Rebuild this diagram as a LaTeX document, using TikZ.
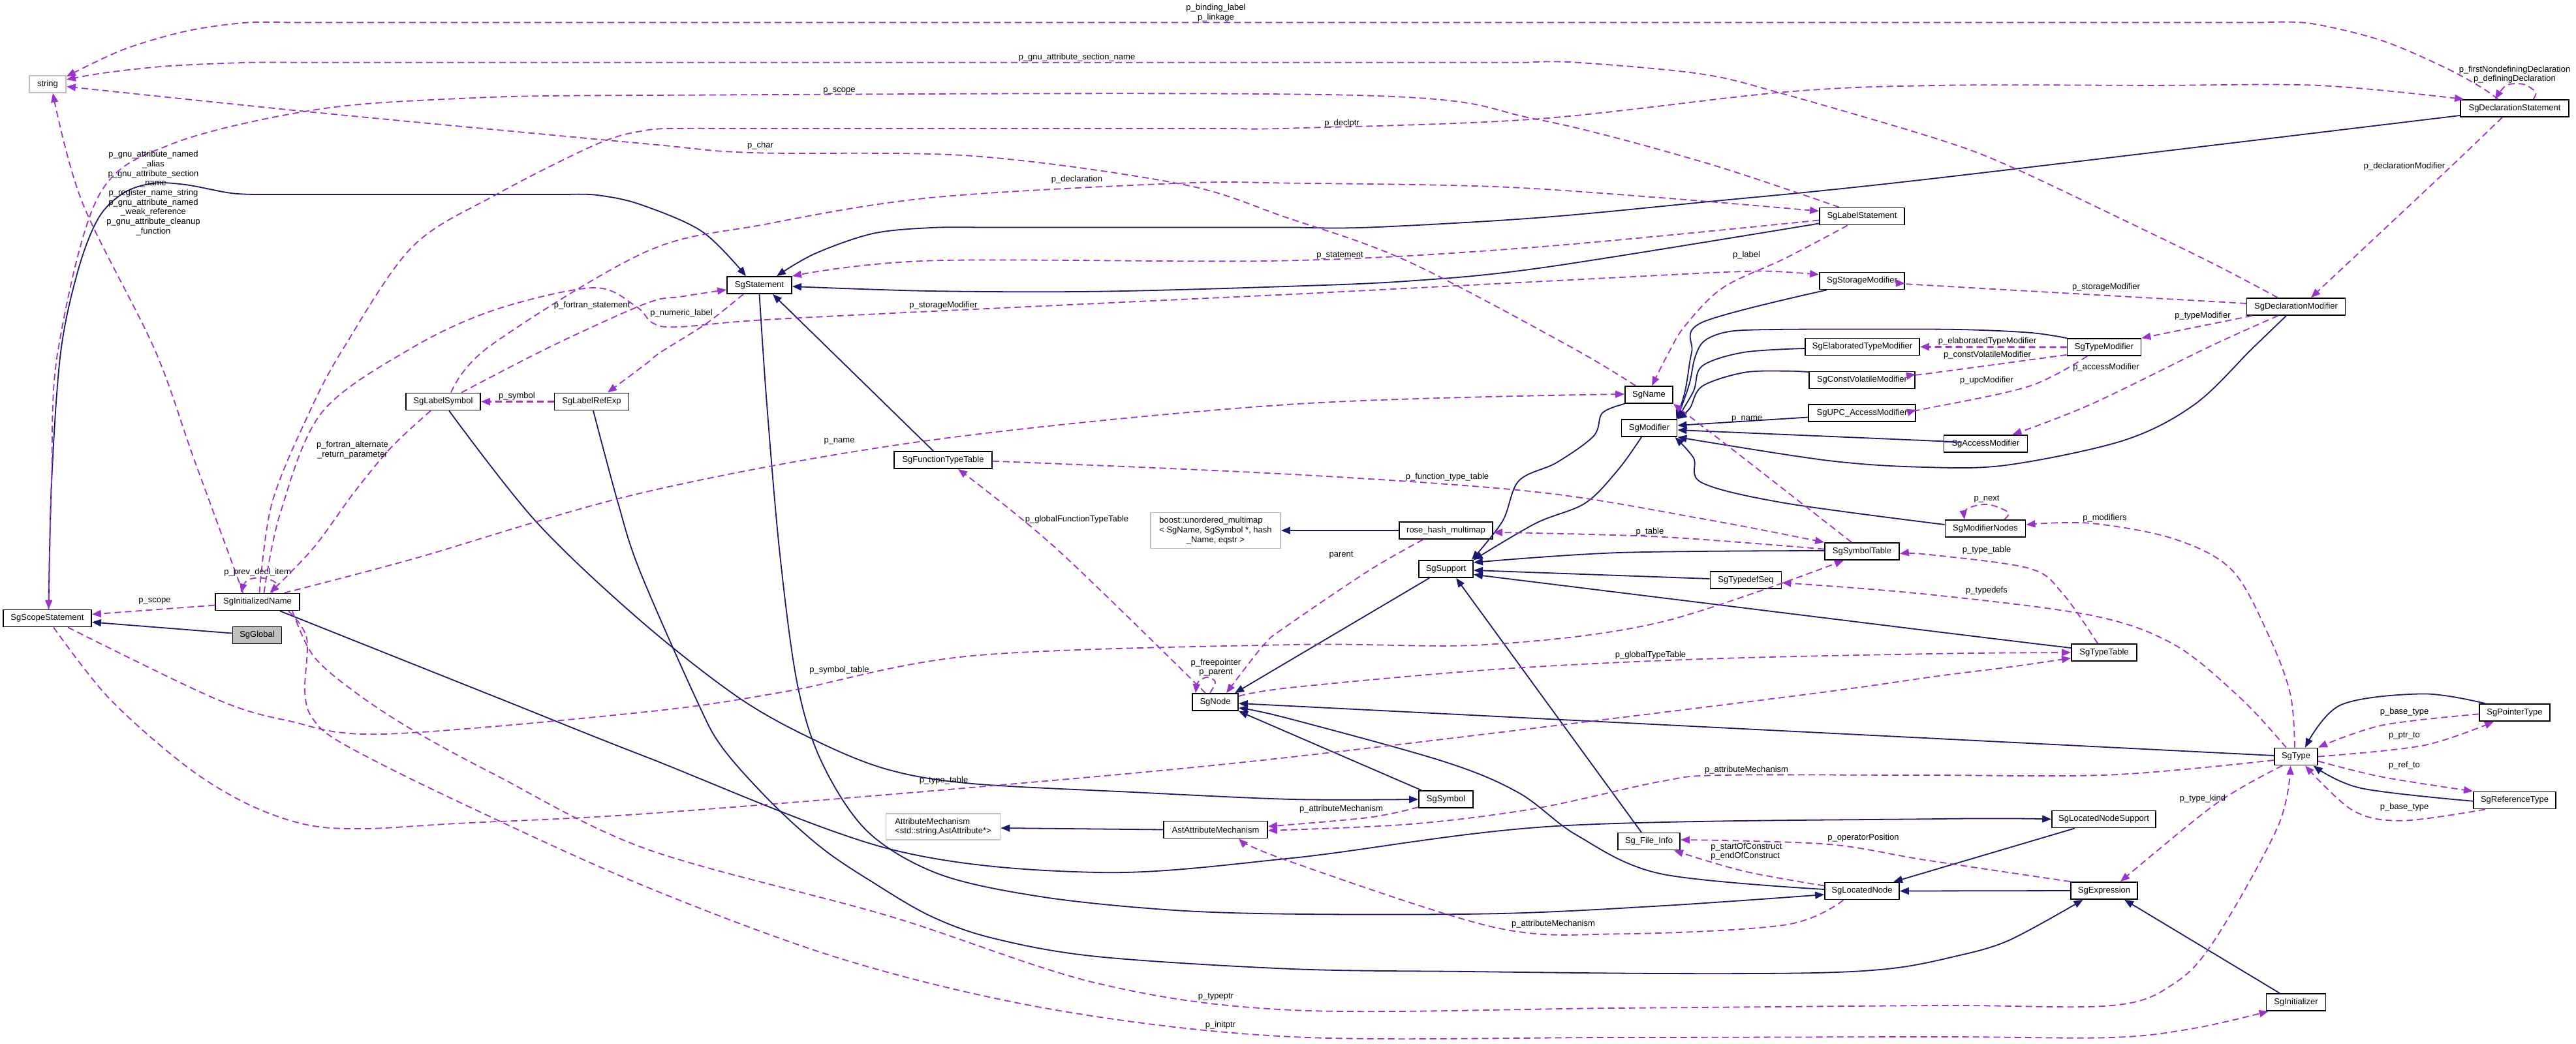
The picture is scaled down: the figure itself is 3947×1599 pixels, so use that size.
\documentclass[tikz,border=0pt]{standalone}
\usepackage{fontspec}
\setmainfont{Liberation Sans}
\usetikzlibrary{arrows.meta}
\definecolor{inhc}{HTML}{191970}
\definecolor{depc}{HTML}{9A32CD}
\definecolor{extc}{HTML}{BFBFBF}
\newcommand\dfont{\fontsize{13}{14.7}\selectfont}
\tikzset{
  cls/.style={draw=black, line width=1.8pt, fill=white, minimum height=26pt, inner xsep=5pt, inner ysep=0pt, font=\dfont},
  ext/.style={cls, draw=extc},
  inh/.style={draw=inhc, line width=1.8pt, -{Triangle[length=14pt,width=11pt]}},
  dep/.style={draw=depc, line width=1.8pt, dash pattern=on 10pt off 6pt, -{Triangle[length=14pt,width=11pt]}},
  lab/.style={font=\dfont, inner sep=0pt, align=center},
  sm/.style={smooth, tension=0.55}
}
\begin{document}
\begin{tikzpicture}[x=1pt,y=-1pt]
\fill[white] (0,0) rectangle (3947,1599);
\useasboundingbox (0,0) rectangle (3947,1599);
% ---------------- nodes ----------------
\node[ext, minimum width=56pt] (nstr) at (73,129) {string};
\node[cls, minimum width=99pt] (stmt) at (1163.5,437) {SgStatement};
\node[cls, minimum width=130pt] (labst) at (2853,331.5) {SgLabelStatement};
\node[cls, minimum width=130pt] (stormod) at (2853,430.5) {SgStorageModifier};
\node[cls, minimum width=175pt] (elab) at (2853.5,531.5) {SgElaboratedTypeModifier};
\node[cls, minimum width=166pt] (declst) at (3853,166) {SgDeclarationStatement};
\node[cls, minimum width=151pt] (declmod) at (3518,470) {SgDeclarationModifier};
\node[cls, minimum width=113pt] (typemod) at (3224,532) {SgTypeModifier};
\node[cls, minimum width=73pt] (sgname) at (2526.5,605) {SgName};
\node[cls, minimum width=162pt] (cvm) at (2853,582.5) {SgConstVolatileModifier};
\node[cls, minimum width=85pt] (sgmod) at (2527,656) {SgModifier};
\node[cls, minimum width=164pt] (upc) at (2853,633) {SgUPC\_AccessModifier};
\node[cls, minimum width=128pt] (access) at (3042.5,680) {SgAccessModifier};
\node[cls, minimum width=114pt] (labsym) at (679,615.5) {SgLabelSymbol};
\node[cls, minimum width=114pt] (labref) at (906.5,615.5) {SgLabelRefExp};
\node[cls, minimum width=150pt] (ftt) at (1445,705) {SgFunctionTypeTable};
\node[ext, minimum width=199pt, minimum height=55pt, align=left] (boost) at (1862.5,813) {boost::unordered\_multimap\\< SgName, SgSymbol *, hash\\\hspace*{41.5pt}\_Name, eqstr >};
\node[cls, minimum width=143pt] (rose) at (2215.5,813) {rose\_hash\_multimap};
\node[cls, minimum width=114pt] (symtab) at (2853,845) {SgSymbolTable};
\node[cls, minimum width=83pt] (support) at (2215.5,872) {SgSupport};
\node[cls, minimum width=109pt] (tdseq) at (2675,889) {SgTypedefSeq};
\node[cls, minimum width=123pt] (modnodes) at (3042,810) {SgModifierNodes};
\node[cls, minimum width=100pt] (typetab) at (3224,1000) {SgTypeTable};
\node[cls, minimum width=129pt] (initname) at (394.5,922.5) {SgInitializedName};
\node[cls, minimum width=135pt] (scope) at (72.5,947.5) {SgScopeStatement};
\node[cls, fill=extc, minimum width=75pt] (global) at (394,973.5) {SgGlobal};
\node[cls, minimum width=70pt] (sgnode) at (1862,1076) {SgNode};
\node[ext, minimum width=175pt, minimum height=40pt, align=left] (attrm) at (1445,1267) {AttributeMechanism\\<std::string,AstAttribute*>};
\node[cls, minimum width=159pt] (astattr) at (1862.5,1271.5) {AstAttributeMechanism};
\node[cls, minimum width=83pt] (symbol) at (2215.5,1225) {SgSymbol};
\node[cls, minimum width=95pt] (fileinfo) at (2526.5,1289.5) {Sg\_File\_Info};
\node[cls, minimum width=114pt] (locnode) at (2853,1365.5) {SgLocatedNode};
\node[cls, minimum width=159pt] (lns) at (3223.5,1255.5) {SgLocatedNodeSupport};
\node[cls, minimum width=102pt] (expr) at (3224,1365) {SgExpression};
\node[cls, minimum width=91pt] (sginit) at (3518,1536) {SgInitializer};
\node[cls, minimum width=66pt] (sgtype) at (3518,1159.5) {SgType};
\node[cls, minimum width=108pt] (ptr) at (3853,1092) {SgPointerType};
\node[cls, minimum width=126pt] (ref) at (3853,1226.5) {SgReferenceType};
% ---------------- inheritance edges ----------------
\draw[inh] ([yshift=3pt]global.west) -- ([yshift=-6pt]scope.east);
\draw[inh] plot[sm] coordinates {([xshift=2pt]scope.north) (79,740) (93,540) (120,413) (151,334) (189,296) (234,281) (284,283) (354,296) (400,298)} -- plot[sm] coordinates {(870,298) (915,299) (980,313) (1076,355) ([xshift=-20.5pt]stmt.north)};
\draw[inh] plot[sm] coordinates {([yshift=-11pt]declst.west) (2950,275) (2608,310) (2353,334) (2098,348.5) (1990,348.5)} -- plot[sm] coordinates {(1500,348.5) (1426,349) (1337,358) (1248,389) ([xshift=26.5pt]stmt.north)};
\draw[inh] plot[sm] coordinates {([yshift=-11pt]labst.west) (2365,410) (2161,430.5) (1970,439) (1681,446.7) (1426,446) ([yshift=-2pt]stmt.east)};
\draw[inh] ([xshift=-15pt]ftt.north) -- ([xshift=20.5pt]stmt.south);
\draw[inh] plot[sm] coordinates {(stmt.south) (1175,620) (1195,850) (1222,1050) (1260,1170) (1330,1275) (1440,1340) (1600,1375) (1800,1395) (2000,1401) (2300,1400) (2550,1388) ([yshift=-5.5pt]locnode.west)};
\draw[inh] plot[sm] coordinates {([xshift=2.5pt]labref.south) (947,771) (980,874) (1066,1070) (1107,1146) (1184,1232) (1261,1301) (1337,1352) (1426,1404) (1522,1438) (1681,1466) (1980,1485) (2250,1489) (2550,1492) (2780,1491) (2900,1484) (2990,1467) (3077,1441.6) ([xshift=-32.4pt]expr.south)};
\draw[inh] plot[sm] coordinates {([xshift=9pt]labsym.south) (821,799) (980,950) (1133,1070) (1254,1137) (1362.6,1180) (1490,1201) (1735,1214) (1980,1225) (symbol.west)};
\draw[inh] plot[sm] coordinates {([xshift=34.5pt]initname.south) (764,1070) (990,1160) (1362.6,1301) (1681.5,1337) (1980,1315) (2384.5,1266) (2970,1255) (lns.west)};
\draw[inh] ([xshift=-25.5pt]support.south) -- ([xshift=30pt]sgnode.north);
\draw[inh] ([yshift=1.5pt]sgtype.west) -- ([yshift=-2pt]sgnode.east);
\draw[inh] ([xshift=-37.5pt]symbol.north) -- (sgnode.south east);
\draw[inh] plot[sm] coordinates {([yshift=2.5pt]locnode.west) (2544,1339) (2416,1280) (2327,1215) (2212,1167) (1970,1100) ([yshift=-9pt]sgnode.east)};
\draw[inh] plot[sm] coordinates {(sgname.south west) (2455,633) (2442,668) (2385,709) (2327,737) (2302,799) ([xshift=-3pt]support.north east)};
\draw[inh] plot[sm] coordinates {([xshift=-12pt]sgmod.south) (2480,719) (2429,771) (2353,802) (support.north east)};
\draw[inh] plot[sm] coordinates {([yshift=1pt]symtab.west) (2480,847) ([yshift=10pt]support.east)};
\draw[inh] ([yshift=2pt]tdseq.west) -- ([yshift=-2pt]support.east);
\draw[inh] plot[sm] coordinates {([yshift=7pt]typetab.west) (2950,966) ([yshift=-8.5pt]support.east)};
\draw[inh] ([xshift=-11.5pt]fileinfo.north) -- ([xshift=15.5pt]support.south);
\draw[inh] plot[sm] coordinates {([xshift=-54pt]stormod.south) (2608,494) (2592,540) (2582,599) ([xshift=-2pt]sgmod.north east)};
\draw[inh] plot[sm] coordinates {([yshift=-2.5pt]elab.west) (2671.5,540) (2608,561) (2595,599) ([xshift=-1pt]sgmod.north east)};
\draw[inh] plot[sm] coordinates {([yshift=12.5pt]cvm.west) (2735,568.6) (2671.5,571) (2608,592) (2589,626) (sgmod.north east)};
\draw[inh] ([yshift=-6.5pt]upc.west) -- ([yshift=4pt]sgmod.east);
\draw[inh] plot[sm] coordinates {([yshift=3pt]access.west) (2970,676) ([yshift=-3pt]sgmod.east)};
\draw[inh] plot[sm] coordinates {([xshift=-15pt]declmod.south) (3450,535) (3363,619.5) (3255,674.6) (3077,712.5) (2950,716) (2799,705.6) (sgmod.south east)};
\draw[inh] plot[sm] coordinates {([yshift=6pt]modnodes.west) (2735,771) (2608,740) (2595,702) ([xshift=-4pt]sgmod.south east)};
\draw[inh] plot[sm] coordinates {(typemod.north west) (3109,509.7) (3000,505) (2850,504.5) (2720,505) (2650,508) (2612,522) (2597,548) (2588,590) ([xshift=-1pt]sgmod.north east)};
\draw[inh] (rose.west) -- (boost.east);
\draw[inh] (astattr.west) -- ([yshift=-2pt]attrm.east);
\draw[inh] (expr.west) -- (locnode.east);
\draw[inh] ([xshift=-44.5pt]lns.south) -- ([xshift=48pt]locnode.north);
\draw[inh] ([xshift=-25pt]sginit.north) -- ([xshift=31pt]expr.south);
\draw[inh] plot[sm] coordinates {([xshift=-45pt]ptr.north) (3713,1063.4) (3586,1080.6) ([xshift=14pt]sgtype.north)};
\draw[inh] plot[sm] coordinates {([yshift=-1.3pt]ref.west) (3617,1207.8) ([xshift=26.6pt]sgtype.south)};
% ---------------- usage edges ----------------
\draw[dep] plot[sm] coordinates {([xshift=-25.5pt]declst.north) (3802,134) (3745,103) (3649,62) (3541,36) (3470,34.4)} -- plot[sm] coordinates {(440,34.4) (373,35) (284,48) (189,76) ([yshift=-2pt]nstr.north east)};
\draw[dep] plot[sm] coordinates {([xshift=-28pt]declmod.north) (3395,406) (3268,344) (3083.5,256.6) (2970,213.5) (2735,144.6) (2608,113.6) (2416,95.7) (2340,95.7)} -- plot[sm] coordinates {(450,95.7) (372.5,96) (252.5,101.6) (158,112) ([yshift=7pt]nstr.east)};
\draw[dep] plot[sm] coordinates {([xshift=-20.5pt]sgname.north) (2403.7,530) (2155,399.5) (1970,333) (1809,282) (1490,239) (1152,234) (990,220.4) (480,172) ([yshift=-3.6pt]nstr.east)};
\draw[dep] plot[sm] coordinates {([xshift=-22pt]initname.north) (296.7,702) (236.7,535) (126,310) ([xshift=8pt]nstr.south)};
\draw[dep] plot[sm] coordinates {([xshift=-35pt]labst.north) (2608,248) (2353,182.5) (2078,146) (990,146) (694,151.5) (480,168.7) (265,220) (151.5,299.6) (88.4,540) (79,736.6) ([xshift=2pt]scope.north)};
\draw[dep] ([yshift=-5pt]initname.west) -- ([yshift=6pt]scope.east);
\draw[dep, line width=2.8pt] (labref.west) -- (labsym.east);
\draw[dep] plot[sm] coordinates {([xshift=-24.5pt]stmt.south) (1082,496) (1012,540) (990,557.5) ([xshift=24.5pt]labref.north)};
\draw[dep] plot[sm] coordinates {([xshift=28pt]labsym.north) (846,530) (990,465) (1044,454.6) ([yshift=-7pt]stmt.west)};
\draw[dep] plot[sm] coordinates {([xshift=12pt]labsym.north) (751,530) (990,385.7) (1171,344) (1426,303) (1809,280.7) (1980,280.7) (2289,286) (2544,303) ([yshift=8pt]labst.west)};
\draw[dep] plot[sm] coordinates {([xshift=-19pt]labsym.south) (600,685) (543,754) (480,840) ([xshift=19pt]initname.north)};
\draw[dep] plot[sm] coordinates {([xshift=22pt]initname.north) (422,893) (400,885.5) (378,890) ([xshift=-25pt]initname.north)};
\draw[dep] plot[sm] coordinates {([xshift=3pt]initname.north) (416.7,771) (473.5,633) (525.5,535) (631,379) (757.6,299.6) (915.5,220.4) (990,199.7) (1044,197) (1100,197)} -- plot[sm] coordinates {(1900,197) (1980,196.5) (2352.6,182.5) (2735,141) (2970,130.9) (3300,130.9) (3554,131) ([xshift=6pt]declst.north west)};
\draw[dep] plot[sm] coordinates {([xshift=10pt]initname.north) (429,788) (492.4,633) (628,535) (757.6,475) (909,441) (975,470) (1000,495) (1040,501) (1190,489) (1681.5,465) (1980,451)} -- plot[sm] coordinates {(2600,419) (2703,415.5) ([yshift=9.7pt]stormod.west)};
\draw[dep] plot[sm] coordinates {([xshift=41pt]initname.north) (631.4,857) (990,753.8) (1426,674.6) (1980,619.5) ([yshift=1pt]sgname.west)};
\draw[dep] plot[sm] coordinates {([yshift=-6pt]labst.west) (2352.6,378.8) (1970,399.5) (1426,399.5) (stmt.north east)};
\draw[dep] plot[sm] coordinates {([xshift=-22pt]labst.south) (2735,396) (2640,440.8) (2582,499) (2557,540) ([xshift=4.5pt]sgname.north)};
\draw[dep] plot[sm] coordinates {([xshift=28.5pt]declst.north) (3885,141) (3865.6,129) (3840,131) ([xshift=-30pt]declst.north)};
\draw[dep] plot[sm] coordinates {([xshift=-19pt]declst.south) (3745,265) ([xshift=23pt]declmod.north)};
\draw[dep] plot[sm] coordinates {([yshift=5pt]declmod.west) (2950,437) ([yshift=-4pt]stormod.east)};
\draw[dep] ([xshift=9pt]declmod.south west) -- (typemod.north east);
\draw[dep] plot[sm] coordinates {([xshift=-27.5pt]declmod.south) (3388,530) (3204,619.5) ([xshift=41pt]access.north)};
\draw[dep, line width=2.8pt] (typemod.west) -- (elab.east);
\draw[dep] plot[sm] coordinates {([yshift=-11.8pt]typemod.west) (2950,573) ([yshift=9pt]cvm.east)};
\draw[dep] plot[sm] coordinates {([xshift=-26pt]typemod.south) (3109,592) (2950,626.4) ([yshift=5pt]upc.east)};
\draw[dep] plot[sm] coordinates {([xshift=29pt]modnodes.north) (3077,785) (3045,773) (3013.6,780) ([xshift=-32pt]modnodes.north)};
\draw[dep] plot[sm] coordinates {([xshift=-2pt]sgtype.north) (3509.5,1065) (3477.8,977.7) (3420.5,874.4) (3331.5,826) (3204,802) ([yshift=6pt]modnodes.east)};
\draw[dep] plot[sm] coordinates {([xshift=-10pt]typetab.north) (3159.8,908.8) (3109,871) (2956,850) ([yshift=-3.5pt]symtab.east)};
\draw[dep] plot[sm] coordinates {([xshift=-15pt]sgtype.north) (3433,1070) (3331.5,988) (3204,943) (2950,910.5) ([yshift=-4pt]tdseq.east)};
\draw[dep] plot[sm] coordinates {([yshift=9pt]sgnode.east) (1980,1053.5) (2289,1026) (2608,1010) (2970,1001.8) (typetab.west)};
\draw[dep] plot[sm] coordinates {([xshift=9.5pt]scope.south) (167,1070) (284,1173.4) (379,1232) (470,1264) (560,1270) (700,1262) (990,1247) (1522,1204) (1980,1160) (2722.5,1070) (2970,1036) (3077,1022.5) ([yshift=-8.6pt]typetab.west)};
\draw[dep] plot[sm] coordinates {([xshift=31.5pt]scope.south) (328,1070) (442,1104.7) (587,1125) (990,1091) (1203,1060) (1490,1005) (1980,988) (2276,988) (2544,953.6) ([xshift=-28pt]symtab.south)};
\draw[dep] plot[sm] coordinates {([yshift=3.4pt]symtab.west) (2544,822.7) ([yshift=-2.8pt]rose.east)};
\draw[dep] plot[sm] coordinates {([yshift=-1.7pt]ftt.east) (1980,727) (2352.6,753.8) (2608,795) (symtab.north west)};
\draw[dep] plot[sm] coordinates {([xshift=-16pt]symtab.north) (2671.5,702) (sgname.south east)};
\draw[dep] plot[sm] coordinates {([xshift=-35pt]rose.south) (2097.5,874.4) (1970,960.5) (1936.6,988) ([xshift=17pt]sgnode.north)};
\draw[dep] plot[sm] coordinates {([xshift=-8pt]sgnode.north) (1862,1045) (1850,1038) (1836,1045) ([xshift=-30pt]sgnode.north)};
\draw[dep] plot[sm] coordinates {([xshift=-15pt]sgnode.north) (1617.7,840) ([xshift=23pt]ftt.south)};
\draw[dep] plot[sm] coordinates {([yshift=-12pt]symbol.west) (2097.5,1252.8) ([yshift=5pt]astattr.east)};
\draw[dep] plot[sm] coordinates {([yshift=-5.5pt]sgtype.west) (3236,1187.4) (2950,1188) (2639.6,1188) (2544,1197.7) (2352.6,1239) (2161,1263) ([yshift=-1.3pt]astattr.east)};
\draw[dep] plot[sm] coordinates {([xshift=-28.5pt]locnode.south) (2735,1417.5) (2480,1431.3) (2289,1421) (1970,1318) ([xshift=35.5pt]astattr.south)};
\draw[dep] plot[sm] coordinates {([yshift=8pt]locnode.west) (2671.5,1335) ([xshift=-10pt]fileinfo.south east)};
\draw[dep] plot[sm] coordinates {(expr.north west) (2950,1318) (2799,1293.7) ([yshift=2.5pt]fileinfo.east)};
\draw[dep] plot[sm] coordinates {([xshift=-21pt]sgtype.south) (3395,1232) ([xshift=25pt]expr.north)};
\draw[dep] plot[sm] coordinates {([xshift=53.5pt]initname.south) (480,1005) (543,1060) (631,1118) (758,1187) (990,1301) (1362.6,1404) (1681.5,1507) (1980,1548) (2475,1545) (2970,1541) (3236,1541) (3331.5,1507) (3395,1438) (3490.5,1266) ([xshift=-8.5pt]sgtype.south)};
\draw[dep] plot[sm] coordinates {([xshift=47.5pt]initname.south) (470,978) (467,1060) (479,1101) (524,1139) (694.5,1225) (990,1359) (1299,1472.5) (1618,1548) (1980,1589) (2475,1590) (2970,1589) (3236,1590) (3363,1575.7) ([xshift=4pt]sginit.south west)};
\draw[dep] plot[sm] coordinates {([yshift=-2.4pt]ptr.west) (3649.5,1111.6) (sgtype.north east)};
\draw[dep] plot[sm] coordinates {(sgtype.east) (3713,1142.5) ([xshift=-32pt]ptr.south)};
\draw[dep] plot[sm] coordinates {([yshift=-7pt]sgtype.east) (3649.5,1190.6) (ref.north west)};
\draw[dep] plot[sm] coordinates {([xshift=-45pt]ref.south) (3681,1257.7) (3605,1242) ([xshift=14pt]sgtype.south)};
% ---------------- labels ----------------
\node[lab] (l1) at (1863,19.5) {p\_binding\_label\\p\_linkage};
\node[lab] (l2) at (1650,88) {p\_gnu\_attribute\_section\_name};
\node[lab] (l3) at (1286,139) {p\_scope};
\node[lab] (l4) at (1165,223) {p\_char};
\node[lab] (l5) at (2056,189) {p\_declptr};
\node[lab] (l6) at (1650,275.5) {p\_declaration};
\node[lab] (l7) at (2053,392) {p\_statement};
\node[lab] (l8) at (2676,391) {p\_label};
\node[lab] (l9) at (1445.5,467.7) {p\_storageModifier};
\node[lab] (l10) at (1044,480) {p\_numeric\_label};
\node[lab] (l11) at (907,468) {p\_fortran\_statement};
\node[lab] (l12) at (235,296) {p\_gnu\_attribute\_named\\\_alias\\p\_gnu\_attribute\_section\\\_name\\p\_register\_name\_string\\p\_gnu\_attribute\_named\\\_weak\_reference\\p\_gnu\_attribute\_cleanup\\\_function};
\node[lab] (l13) at (3853,114) {p\_firstNondefiningDeclaration\\p\_definingDeclaration};
\node[lab] (l14) at (3684,255.5) {p\_declarationModifier};
\node[lab] (l15) at (3227,440) {p\_storageModifier};
\node[lab] (l16) at (3375,484) {p\_typeModifier};
\node[lab] (l17) at (3045,523.5) {p\_elaboratedTypeModifier};
\node[lab] (l18) at (3045,544) {p\_constVolatileModifier};
\node[lab] (l19) at (3227,563.5) {p\_accessModifier};
\node[lab] (l20) at (3044,582.7) {p\_upcModifier};
\node[lab] (l21) at (540,689.5) {p\_fortran\_alternate\\\_return\_parameter};
\node[lab] (l22) at (792,607.5) {p\_symbol};
\node[lab] (l23) at (394.6,877) {p\_prev\_decl\_item};
\node[lab] (l24) at (237,921) {p\_scope};
\node[lab] (l25) at (1286,676) {p\_name};
\node[lab] (l26) at (1650,796) {p\_globalFunctionTypeTable};
\node[lab] (l27) at (1863,1023) {p\_freepointer\\p\_parent};
\node[lab] (l28) at (1286,1027.6) {p\_symbol\_table};
\node[lab] (l29) at (2217.5,731.5) {p\_function\_type\_table};
\node[lab] (l30) at (2676.6,642.6) {p\_name};
\node[lab] (l31) at (2528,815) {p\_table};
\node[lab] (l32) at (2055,851) {parent};
\node[lab] (l33) at (2529,1004) {p\_globalTypeTable};
\node[lab] (l34) at (3044,765) {p\_next};
\node[lab] (l35) at (3225,794.5) {p\_modifiers};
\node[lab] (l36) at (3044,843) {p\_type\_table};
\node[lab] (l37) at (3044,905) {p\_typedefs};
\node[lab] (l38) at (1446,1196) {p\_type\_table};
\node[lab] (l39) at (1863,1527.6) {p\_typeptr};
\node[lab] (l40) at (1870,1571) {p\_initptr};
\node[lab] (l41) at (2055,1240) {p\_attributeMechanism};
\node[lab] (l42) at (2676,1180) {p\_attributeMechanism};
\node[lab] (l43) at (2380,1416) {p\_attributeMechanism};
\node[lab, align=left] (l44) at (2676,1305) {p\_startOfConstruct\\p\_endOfConstruct};
\node[lab] (l45) at (2855,1284) {p\_operatorPosition};
\node[lab] (l46) at (3375,1224) {p\_type\_kind};
\node[lab] (l47) at (3684,1091) {p\_base\_type};
\node[lab] (l48) at (3684,1128) {p\_ptr\_to};
\node[lab] (l49) at (3684,1173) {p\_ref\_to};
\node[lab] (l50) at (3684,1237) {p\_base\_type};
\end{tikzpicture}
\end{document}
